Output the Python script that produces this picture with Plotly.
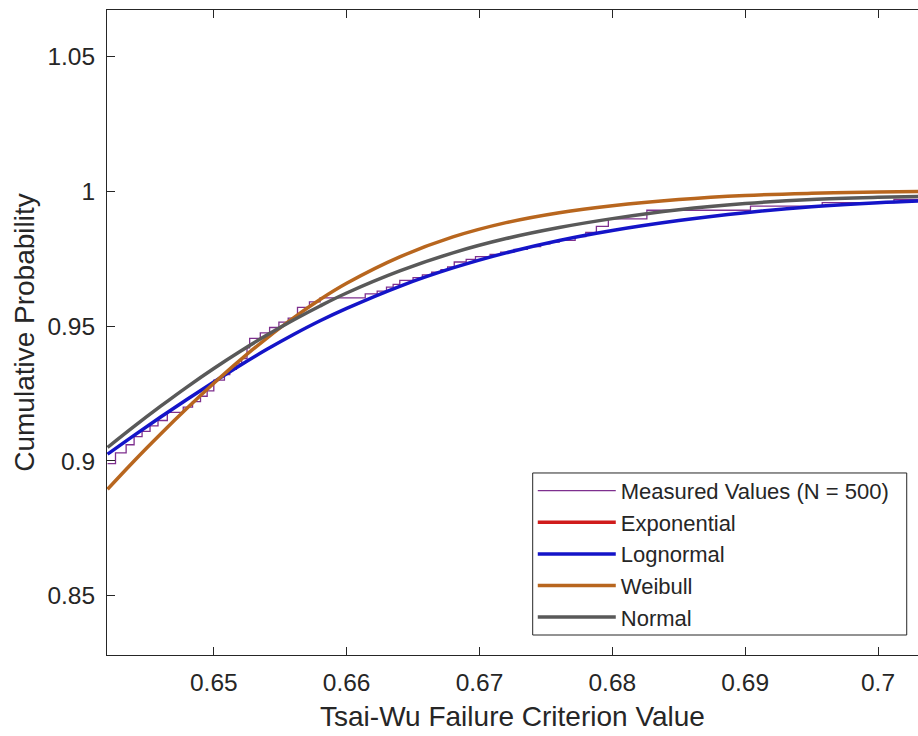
import plotly.graph_objects as go

# ---- data ----
x_fit = [0.642, 0.644, 0.646, 0.648, 0.650, 0.652, 0.654, 0.656, 0.658, 0.660,
         0.664, 0.668, 0.672, 0.676, 0.680, 0.685, 0.690, 0.695, 0.700, 0.704]

exponential = [0.682, 0.683, 0.684, 0.685, 0.686, 0.687, 0.688, 0.689, 0.690, 0.691,
               0.693, 0.695, 0.697, 0.699, 0.701, 0.704, 0.707, 0.709, 0.712, 0.714]
lognormal = [0.9025, 0.9095, 0.9163, 0.9229, 0.9293, 0.9355, 0.9414, 0.9469, 0.9520, 0.9566,
             0.9648, 0.9716, 0.9772, 0.9818, 0.9855, 0.9892, 0.9921, 0.9943, 0.9958, 0.9966]
weibull = [0.8895, 0.9000, 0.9100, 0.9196, 0.9288, 0.9375, 0.9456, 0.9531, 0.9599, 0.9659,
           0.9757, 0.9831, 0.9884, 0.9921, 0.9947, 0.9970, 0.9985, 0.9993, 0.9998, 1.0000]
normal = [0.9050, 0.9128, 0.9203, 0.9275, 0.9343, 0.9407, 0.9467, 0.9523, 0.9575, 0.9623,
          0.9705, 0.9772, 0.9825, 0.9866, 0.9899, 0.9932, 0.9955, 0.9970, 0.9978, 0.9982]

# empirical CDF (staircase): jump positions and level after each jump
measured_x = [0.6420, 0.6426, 0.6434, 0.6440, 0.6446, 0.6452, 0.6458, 0.6465, 0.6477, 0.6484,
              0.6490, 0.6495, 0.6500, 0.6508, 0.6512, 0.6517, 0.6521, 0.6525, 0.6527, 0.6535,
              0.6542, 0.6549, 0.6556, 0.6563, 0.6572, 0.6580, 0.6614, 0.6623, 0.6630, 0.6635,
              0.6640, 0.6650, 0.6657, 0.6664, 0.6671, 0.6676, 0.6681, 0.6690, 0.6697, 0.6708,
              0.6716, 0.6726, 0.6736, 0.6746, 0.6753, 0.6760, 0.6772, 0.6780, 0.6788, 0.6797,
              0.6826, 0.6904, 0.6958, 0.7012, 0.7040]
measured_y = [0.8990, 0.9030, 0.9060, 0.9090, 0.9110, 0.9130, 0.9150, 0.9180, 0.9200, 0.9220,
              0.9240, 0.9260, 0.9300, 0.9320, 0.9340, 0.9360, 0.9380, 0.9420, 0.9455, 0.9475,
              0.9495, 0.9515, 0.9530, 0.9570, 0.9590, 0.9605, 0.9620, 0.9630, 0.9645, 0.9655,
              0.9670, 0.9680, 0.9690, 0.9700, 0.9710, 0.9720, 0.9738, 0.9748, 0.9758, 0.9766,
              0.9775, 0.9785, 0.9795, 0.9805, 0.9812, 0.9818, 0.9832, 0.9848, 0.9870, 0.9898,
              0.9930, 0.9945, 0.9958, 0.9970, 0.9975]

x_tick_vals = [0.65, 0.66, 0.67, 0.68, 0.69, 0.70]
x_tick_text = ["0.65", "0.66", "0.67", "0.68", "0.69", "0.7"]
y_tick_vals = [0.85, 0.90, 0.95, 1.00, 1.05]
y_tick_text = ["0.85", "0.9", "0.95", "1", "1.05"]

FONT = "Liberation Sans, Arial, Helvetica, sans-serif"
TXT = "#262626"

fig = go.Figure()
fig.add_trace(go.Scatter(x=measured_x, y=measured_y, mode="lines", line_shape="hv",
                         line=dict(color="#7E2F8E", width=1.3),
                         name="Measured Values (N = 500)"))
fig.add_trace(go.Scatter(x=x_fit, y=exponential, mode="lines", line_shape="spline",
                         line=dict(color="#D01C1C", width=3.5), name="Exponential"))
fig.add_trace(go.Scatter(x=x_fit, y=lognormal, mode="lines", line_shape="spline",
                         line=dict(color="#1414C8", width=3.5), name="Lognormal"))
fig.add_trace(go.Scatter(x=x_fit, y=weibull, mode="lines", line_shape="spline",
                         line=dict(color="#B8661E", width=3.5), name="Weibull"))
fig.add_trace(go.Scatter(x=x_fit, y=normal, mode="lines", line_shape="spline",
                         line=dict(color="#595959", width=3.5), name="Normal"))

# legend frame (drawn as a paper-space rectangle so its right edge stays inside the page)
fig.add_shape(type="rect", xref="paper", yref="paper",
              x0=0.5249, x1=0.9861, y0=0.031, y1=0.2822,
              line=dict(color=TXT, width=1), fillcolor="white", layer="above")

fig.update_layout(
    width=918, height=736,
    margin=dict(l=107, r=0, t=10, b=81),
    paper_bgcolor="white", plot_bgcolor="white",
    font=dict(family=FONT, color=TXT, size=24),
    showlegend=True,
    legend=dict(x=0.525, y=0.287, xanchor="left", yanchor="top",
                bgcolor="rgba(0,0,0,0)", borderwidth=0,
                font=dict(size=22, color=TXT), itemwidth=78),
    xaxis=dict(range=[0.64196, 0.70301], tickvals=x_tick_vals, ticktext=x_tick_text,
               ticks="inside", ticklen=8, tickcolor=TXT, showline=True, linecolor=TXT,
               linewidth=1, mirror="ticks", showgrid=False, zeroline=False,
               tickfont=dict(size=24.5), ticklabelstandoff=6,
               title=dict(text="Tsai-Wu Failure Criterion Value", font=dict(size=28), standoff=10)),
    yaxis=dict(range=[0.828, 1.0673], tickvals=y_tick_vals, ticktext=y_tick_text,
               ticks="inside", ticklen=8, tickcolor=TXT, showline=True, linecolor=TXT,
               linewidth=1, mirror=False, showgrid=False, zeroline=False,
               tickfont=dict(size=24.5), ticklabelstandoff=6,
               title=dict(text="Cumulative Probability", font=dict(size=28), standoff=4)),
)

fig.write_html("out.html")
